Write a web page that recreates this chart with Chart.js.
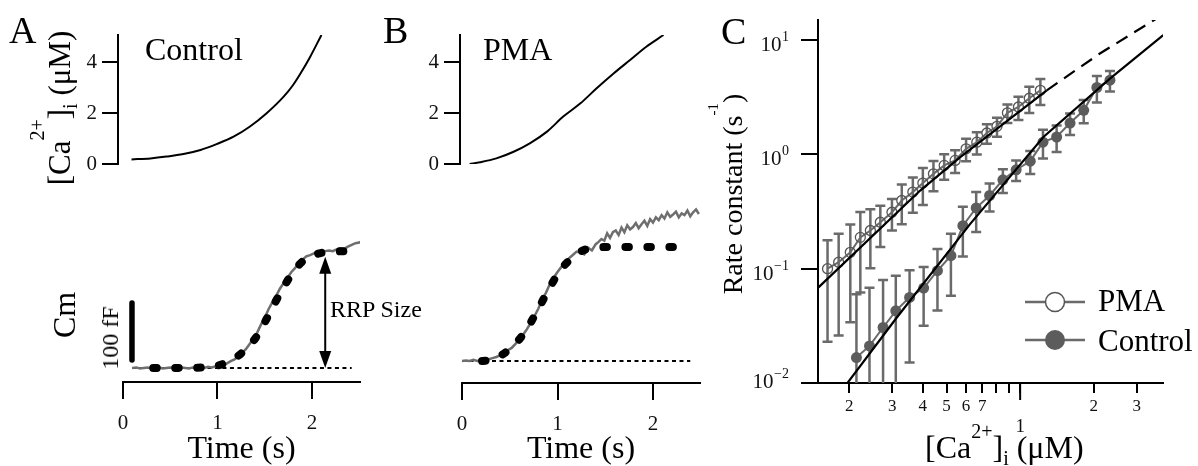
<!DOCTYPE html>
<html>
<head>
<meta charset="utf-8">
<script src="https://cdn.jsdelivr.net/npm/chart.js@4/dist/chart.umd.min.js"></script>
<style>
body{margin:0;background:#fff;width:1198px;height:466px;position:relative;overflow:hidden;font-family:"Liberation Serif","Times New Roman",serif;color:#000}
canvas{position:absolute}
.t{position:absolute;line-height:1;white-space:nowrap}
.r{position:absolute;line-height:1;white-space:nowrap;transform:translate(-50%,-50%) rotate(-90deg)}
.s{position:relative}
</style>
</head>
<body>
<canvas id="aTop" width="370" height="200" style="left:0;top:0"></canvas>
<canvas id="bTop" width="340" height="200" style="left:370px;top:0"></canvas>
<canvas id="aBot" width="370" height="266" style="left:0;top:200px"></canvas>
<canvas id="bBot" width="340" height="266" style="left:370px;top:200px"></canvas>
<canvas id="cLog" width="498" height="466" style="left:700px;top:0"></canvas>

<div class="t" style="left:9px;top:11px;font-size:38px">A</div>
<div class="t" style="left:383px;top:11px;font-size:38px">B</div>
<div class="t" style="left:721px;top:12px;font-size:38px">C</div>
<div class="t" style="left:145px;top:33px;font-size:32px">Control</div>
<div class="t" style="left:483px;top:33px;font-size:32px">PMA</div>
<div class="t" style="left:330px;top:297px;font-size:24px">RRP Size</div>
<div class="t" style="left:1098px;top:285px;font-size:31px">PMA</div>
<div class="t" style="left:1098px;top:325px;font-size:31px">Control</div>
<div class="t" style="left:925px;top:431px;font-size:32px">[Ca<span class="s" style="font-size:20px;top:-20px">2+</span>]<span class="s" style="font-size:20px;top:7px">i</span> (μM)</div>
<div class="r" style="left:59px;top:108px;font-size:31px">[Ca<span class="s" style="font-size:20px;top:-26px">2+</span>]<span class="s" style="font-size:20px;top:7px">i</span> (μM)</div>
<div class="r" style="left:64px;top:315px;font-size:32px">Cm</div>
<div class="r" style="left:110px;top:338px;font-size:24px">100 fF</div>
<div class="r" style="left:733px;top:194px;font-size:28px">Rate constant (s<span class="s" style="font-size:15px;top:-24px">-1</span>)</div>

<script>
Chart.defaults.font.family='"Liberation Serif","Times New Roman",serif';

// top traces: [Ca2+]i (uM) against time (s)
const caTimeA=[0.09,0.29,0.46,0.64,0.82,0.99,1.17,1.34,1.52,1.70,1.80,1.87,1.98,2.10];
const caA=[0.18,0.22,0.29,0.39,0.55,0.78,1.07,1.46,1.99,2.64,3.10,3.50,4.20,5.06];
const caTimeB=[0.08,0.19,0.36,0.54,0.71,0.89,1.06,1.24,1.41,1.59,1.76,1.93,2.11];
const caB=[0.0,0.07,0.22,0.48,0.81,1.27,1.86,2.38,2.97,3.56,4.08,4.60,5.06];
const caTicks=[0,2,4];

// Cm traces (fF above baseline)
const cmTimeA=[0.10,0.14,0.18,0.22,0.26,0.30,0.34,0.38,0.42,0.46,0.50,0.54,0.58,0.62,0.66,0.70,0.74,0.78,0.82,0.86,0.90,0.94,0.98,1.02,1.06,1.10,1.14,1.18,1.22,1.26,1.30,1.34,1.38,1.42,1.46,1.50,1.54,1.58,1.62,1.66,1.70,1.74,1.78,1.82,1.86,1.90,1.94,1.98,2.02,2.06,2.10,2.14,2.18,2.22,2.26,2.30,2.34,2.38,2.42,2.46,2.50,2.53];
const cmA=[0,1,-1,0,1,-1,0,1,-1,0,1,0,-1,1,0,-1,1,0,2,0,2,1,3,2,6,8,12,15,21,26,33,42,52,62,76,88,103,115,126,139,149,158,168,175,184,190,196,198,201,203,202,205,206,205,208,210,209,213,216,219,220,223];
const fitTimeA=[0.32,0.90,1.00,1.10,1.20,1.30,1.40,1.50,1.60,1.70,1.80,1.90,2.00,2.10,2.20,2.42];
const fitA=[0,1,4,10,19,33,52,80,112,142,168,187,197,202,204,205];
const baseTimeA=[0.10,2.42];

const cmTimeB=[0.00,0.04,0.08,0.12,0.16,0.20,0.24,0.28,0.32,0.36,0.40,0.44,0.48,0.52,0.56,0.60,0.64,0.68,0.72,0.76,0.80,0.84,0.88,0.92,0.96,1.00,1.04,1.08,1.12,1.16,1.20,1.24,1.28,1.32,1.36,1.40,1.43,1.46,1.49,1.52,1.55,1.58,1.61,1.64,1.67,1.70,1.73,1.76,1.79,1.82,1.85,1.88,1.91,1.94,1.97,2.00,2.03,2.06,2.09,2.12,2.15,2.18,2.21,2.24,2.27,2.30,2.33,2.36,2.39,2.42,2.45,2.48];
const cmB=[0,1,0,2,0,1,2,3,5,7,10,14,19,23,30,38,46,56,67,79,92,108,120,135,146,156,165,171,180,186,192,190,187,199,194,205,209,214,211,224,216,226,229,221,234,226,238,231,235,242,233,240,246,237,249,243,252,247,256,250,261,253,257,262,252,259,256,264,254,261,266,258];
const fitTimeB=[0.21,0.30,0.40,0.50,0.60,0.70,0.80,0.90,1.00,1.10,1.20,1.30,1.40,1.50,2.39];
const fitB=[0,2,9,21,38,62,92,123,152,173,188,196,199,200,200];
const baseTimeB=[0.00,2.39];
const timeTicks=[0,1,2];

// scale bar and RRP arrow (panel A)
const barTime=[0.095,0.095];
const barCm=[14,114];
const rrpTime=2.14;
const rrpSize=195;

// panel C: rate constant vs [Ca2+]i
const pmaCa=[0.163,0.181,0.202,0.222,0.244,0.268,0.299,0.328,0.364,0.400,0.442,0.489,0.542,0.601,0.665,0.731,0.804,0.887,0.984,1.09,1.21];
const pmaRate=[0.100,0.114,0.139,0.188,0.216,0.255,0.312,0.395,0.468,0.561,0.676,0.801,0.886,1.12,1.28,1.54,1.76,2.31,2.60,3.10,3.64];
const pmaSE=[0.077,0.088,0.105,0.126,0.115,0.100,0.096,0.15,0.16,0.20,0.20,0.20,0.20,0.25,0.28,0.30,0.33,0.43,0.60,0.80,0.93];
const ctlCa=[0.214,0.242,0.275,0.310,0.353,0.403,0.459,0.521,0.583,0.661,0.750,0.850,0.963,1.10,1.24,1.41,1.60,1.82,2.06,2.33];
const ctlRate=[0.0167,0.0211,0.0306,0.0428,0.0561,0.0677,0.096,0.130,0.238,0.340,0.437,0.600,0.734,0.873,1.28,1.42,1.88,2.43,3.85,4.46];
const ctlSE=[0.043,0.047,0.049,0.044,0.041,0.036,0.053,0.072,0.11,0.13,0.12,0.14,0.15,0.20,0.36,0.37,0.40,0.56,1.0,0.9];
const pmaFitCa=[0.1497,0.390,0.569,1.285];
const pmaFitRate=[0.0686,0.483,0.947,3.64];
const pmaExtCa=[1.285,2.12,3.62];
const pmaExtRate=[3.64,7.64,15.5];
const ctlFitCa=[0.1956,0.313,0.625,1.245,2.33,3.85];
const ctlFitRate=[0.00986,0.0374,0.247,1.42,4.61,11.06];
const rateTicks=[0.01,0.1,1,10];
const caTicksC=[0.2,0.3,0.4,0.5,0.6,0.7,0.8,0.9,1,2,3];
const caTickLabelsC=['2','3','4','5','6','7','','','','2','3'];
const caMajorLabel='1';

const zip=(xs,ys)=>xs.map((x,i)=>({x:x,y:ys[i]}));
const axisLine={display:true,color:'#000',width:2};
const gray='#6a6a6a';

function topChart(id,t,v,xmin,xmax,yw){
  return new Chart(document.getElementById(id),{
    type:'line',
    data:{datasets:[{data:zip(t,v),borderColor:'#000',borderWidth:2,pointRadius:0,cubicInterpolationMode:'monotone'}]},
    options:{responsive:false,animation:false,events:[],
      layout:{padding:{left:0,right:10,top:35,bottom:36}},
      plugins:{legend:{display:false},tooltip:{enabled:false}},
      scales:{
        x:{type:'linear',min:xmin,max:xmax,display:false},
        y:{type:'linear',min:0,max:5.06,
          afterFit:s=>{s.width=yw;},
          afterBuildTicks:s=>{s.ticks=caTicks.map(v=>({value:v}));},
          border:axisLine,
          grid:{drawOnChartArea:false,drawTicks:true,tickLength:16,color:'#000',lineWidth:2},
          ticks:{padding:5,color:'#111',font:{size:21}}}
      }}
  });
}

const arrowPlugin={
  id:'rrp',
  afterDatasetsDraw(chart){
    if(chart.canvas.id!=='aBot') return;
    const {ctx,scales:{x,y}}=chart;
    const px=x.getPixelForValue(rrpTime), top=y.getPixelForValue(rrpSize), bot=y.getPixelForValue(0);
    ctx.save();
    ctx.strokeStyle='#000';ctx.fillStyle='#000';ctx.lineWidth=2;
    ctx.beginPath();ctx.moveTo(px,top+15);ctx.lineTo(px,bot-15);ctx.stroke();
    ctx.beginPath();ctx.moveTo(px,top);ctx.lineTo(px-6,top+17);ctx.lineTo(px+6,top+17);ctx.closePath();ctx.fill();
    ctx.beginPath();ctx.moveTo(px,bot);ctx.lineTo(px-6,bot-17);ctx.lineTo(px+6,bot-17);ctx.closePath();ctx.fill();
    ctx.restore();
  }
};

function cmChart(id,padLeft,xmax,ymin,ymax,tt,tv,ft,fv,bt,withBar){
  const sets=[
    {data:zip(ft,fv),borderColor:'#000',borderWidth:8,borderDash:[3.5,18.5],borderCapStyle:'round',pointRadius:0,cubicInterpolationMode:'monotone'},
    {data:zip(tt,tv),borderColor:'#6e6e6e',borderWidth:2.5,pointRadius:0},
    {data:zip(bt,[0,0]),borderColor:'#000',borderWidth:2,borderDash:[4,3.5],pointRadius:0}
  ];
  if(withBar) sets.push({data:zip(barTime,barCm),borderColor:'#000',borderWidth:5.5,borderCapStyle:'round',pointRadius:0});
  return new Chart(document.getElementById(id),{
    type:'line',
    data:{datasets:sets},
    options:{responsive:false,animation:false,events:[],
      layout:{padding:{left:padLeft,right:10,top:0,bottom:0}},
      plugins:{legend:{display:false},tooltip:{enabled:false}},
      scales:{
        x:{type:'linear',min:0,max:xmax,
          afterFit:s=>{s.height=withBar?84:83;},
          afterBuildTicks:s=>{s.ticks=timeTicks.map(v=>({value:v}));},
          border:axisLine,
          grid:{drawOnChartArea:false,drawTicks:true,tickLength:17,color:'#000',lineWidth:2},
          ticks:{padding:12,color:'#111',font:{size:21}},
          title:{display:true,text:'Time (s)',color:'#000',font:{size:32,lineHeight:1},padding:{top:0,bottom:0}}},
        y:{type:'linear',min:ymin,max:ymax,display:false}
      }},
    plugins:[arrowPlugin]
  });
}

function errorBars(chart,xs,ys,se){
  const {ctx,chartArea:a,scales:{x,y}}=chart;
  ctx.save();
  ctx.beginPath();ctx.rect(a.left,a.top-10,a.width,a.height+10);ctx.clip();
  ctx.strokeStyle=gray;ctx.lineWidth=2.5;
  xs.forEach((cx,i)=>{
    const px=x.getPixelForValue(cx);
    const hi=y.getPixelForValue(ys[i]+se[i]);
    const lo=ys[i]-se[i];
    const plo=lo>y.min?y.getPixelForValue(lo):a.bottom;
    ctx.beginPath();
    ctx.moveTo(px,hi);ctx.lineTo(px,plo);
    ctx.moveTo(px-5,hi);ctx.lineTo(px+5,hi);
    if(lo>y.min){ctx.moveTo(px-5,plo);ctx.lineTo(px+5,plo);}
    ctx.stroke();
  });
  ctx.restore();
}

const cPlugin={
  id:'cExtras',
  beforeDatasetsDraw(chart){
    errorBars(chart,pmaCa,pmaRate,pmaSE);
    errorBars(chart,ctlCa,ctlRate,ctlSE);
  },
  afterDraw(chart){
    const {ctx,chartArea:a,scales:{x,y}}=chart;
    ctx.save();
    ctx.fillStyle='#111';ctx.textBaseline='alphabetic';ctx.textAlign='right';
    rateTicks.forEach(v=>{
      const py=y.getPixelForValue(v);
      const e=Math.round(Math.log10(v));
      const sup=e<0?'\u2212'+(-e):String(e);
      const base=Math.min(py+11,a.bottom+5);
      const right=a.left-29;
      ctx.font='14px "Liberation Serif"';
      ctx.fillText(sup,right,base-10);
      const w=ctx.measureText(sup).width;
      ctx.font='21px "Liberation Serif"';
      ctx.fillText('10',right-w-0.5,base);
    });
    // longer tick and label at 1 uM
    const p1=x.getPixelForValue(1);
    ctx.strokeStyle='#000';ctx.lineWidth=2;
    ctx.beginPath();ctx.moveTo(p1,a.bottom);ctx.lineTo(p1,a.bottom+17);ctx.stroke();
    ctx.textAlign='center';ctx.textBaseline='middle';ctx.font='19px "Liberation Serif"';
    ctx.fillText(caMajorLabel,p1,a.bottom+44);
    // legend symbols
    ctx.strokeStyle=gray;ctx.lineWidth=2.5;
    ctx.beginPath();ctx.moveTo(325,302);ctx.lineTo(385,302);ctx.moveTo(325,340);ctx.lineTo(385,340);ctx.stroke();
    ctx.fillStyle='#fff';ctx.lineWidth=1.5;ctx.strokeStyle='#555';
    ctx.beginPath();ctx.arc(355,302,9.5,0,Math.PI*2);ctx.fill();ctx.stroke();
    ctx.fillStyle='#5c5c5c';
    ctx.beginPath();ctx.arc(355,340,10,0,Math.PI*2);ctx.fill();
    ctx.restore();
  }
};

topChart('aTop',caTimeA,caA,-0.053,2.508,118);
topChart('bTop',caTimeB,caB,-0.021,2.492,90);
cmChart('aBot',123,2.508,-24.6,294.7,cmTimeA,cmA,fitTimeA,fitA,baseTimeA,true);
cmChart('bBot',92,2.492,-38.6,282.5,cmTimeB,cmB,fitTimeB,fitB,baseTimeB,false);

new Chart(document.getElementById('cLog'),{
  type:'line',
  data:{datasets:[
    {data:zip(ctlFitCa,ctlFitRate),borderColor:'#000',borderWidth:2.2,pointRadius:0},
    {data:zip(pmaFitCa,pmaFitRate),borderColor:'#000',borderWidth:2.2,pointRadius:0},
    {data:zip(pmaExtCa,pmaExtRate),borderColor:'#000',borderWidth:2.2,borderDash:[13,8],pointRadius:0},
    {data:zip(pmaCa,pmaRate),borderColor:gray,borderWidth:2,pointRadius:5,pointBorderColor:'#555',pointBackgroundColor:'rgba(0,0,0,0)',pointBorderWidth:1.3},
    {data:zip(ctlCa,ctlRate),borderColor:gray,borderWidth:2,pointRadius:5.5,pointBorderColor:'#5c5c5c',pointBackgroundColor:'#5c5c5c',pointBorderWidth:0}
  ]},
  options:{responsive:false,animation:false,events:[],
    layout:{padding:{left:0,right:35,top:20,bottom:0}},
    plugins:{legend:{display:false},tooltip:{enabled:false}},
    scales:{
      x:{type:'logarithmic',min:0.149,max:3.84,
        afterFit:s=>{s.height=83;},
        afterBuildTicks:s=>{s.ticks=caTicksC.map(v=>({value:v}));},
        border:axisLine,
        grid:{drawOnChartArea:false,drawTicks:true,tickLength:10,color:'#000',lineWidth:2},
        ticks:{autoSkip:false,maxRotation:0,padding:3,color:'#111',font:{size:17},callback:(v,i)=>caTickLabelsC[i]}},
      y:{type:'logarithmic',min:0.01,max:15,
        afterFit:s=>{s.width=118;},
        afterBuildTicks:s=>{s.ticks=rateTicks.map(v=>({value:v}));},
        border:axisLine,
        grid:{drawOnChartArea:false,drawTicks:true,tickLength:17,color:'#000',lineWidth:2},
        ticks:{display:false}}
    }},
  plugins:[cPlugin]
});
</script>
</body>
</html>
